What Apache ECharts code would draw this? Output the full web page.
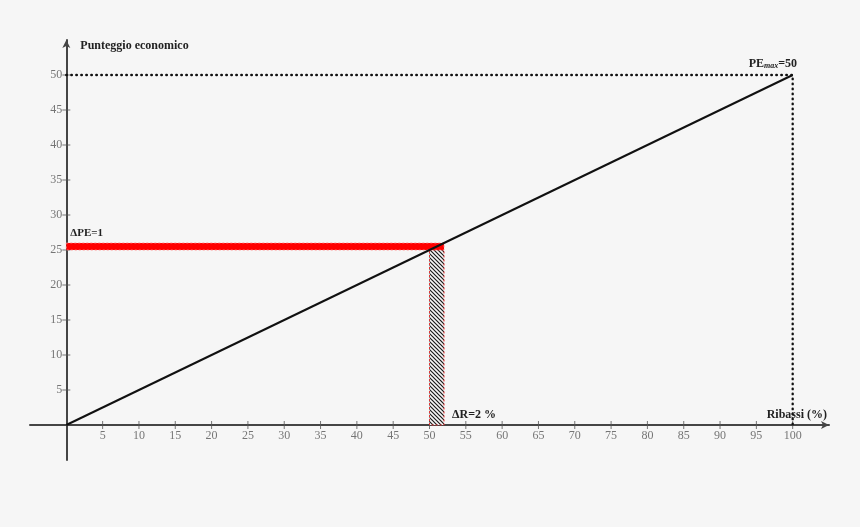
<!DOCTYPE html>
<html>
<head>
<meta charset="utf-8">
<title>Punteggio economico</title>
<script src="https://cdn.jsdelivr.net/npm/echarts@6/dist/echarts.min.js"></script>
<style>
    html, body { margin: 0; padding: 0; background: #f6f6f6; }
    #main { width: 860px; height: 527px; }
</style>
</head>
<body>
<div id="main"></div>
<script>
// tick values shown on the axes
var xTicks = [5, 10, 15, 20, 25, 30, 35, 40, 45, 50, 55, 60, 65, 70, 75, 80, 85, 90, 95, 100];
var yTicks = [5, 10, 15, 20, 25, 30, 35, 40, 45, 50];

// punteggio economico vs ribasso (retta)
var scoreLine = [[0, 0], [100, 50]];
// PEmax guide (dotted)
var maxGuide = [[0, 50], [100, 50], [100, 0]];
// ΔPE band: [x0, x1, y0, y1]
var peBand = [0, 52, 25, 26];
// ΔR band: [x0, x1, y0, y1]
var rBand = [50, 52, 0, 25];

var serif = 'Liberation Serif';
var axisColor = '#454545';

// hatch pattern for the ΔR bar
function hatchPattern() {
    var c = document.createElement('canvas');
    c.width = 4;
    c.height = 4;
    var ctx = c.getContext('2d');
    ctx.fillStyle = '#f6f6f6';
    ctx.fillRect(0, 0, 4, 4);
    ctx.strokeStyle = '#1a1a1a';
    ctx.lineWidth = 1.2;
    ctx.beginPath();
    ctx.moveTo(0, 0); ctx.lineTo(4, 4);
    ctx.moveTo(-1, 3); ctx.lineTo(1, 5);
    ctx.moveTo(3, -1); ctx.lineTo(5, 1);
    ctx.stroke();
    return { image: c, repeat: 'repeat' };
}

var tickLabel = {
    show: true,
    color: '#555',
    fontFamily: serif,
    fontSize: 12
};

var myChart = echarts.init(document.getElementById('main'));
var option = {
    backgroundColor: '#f6f6f6',
    animation: false,
    grid: { left: 30, right: 31, top: 40, bottom: 67 },
    xAxis: {
        type: 'value',
        min: -5,
        max: 105,
        interval: 5,
        splitLine: { show: false },
        axisTick: { show: false },
        axisLabel: { show: false },
        axisLine: {
            onZero: true,
            symbol: ['none', 'arrow'],
            symbolSize: [6, 8],
            lineStyle: { color: axisColor, width: 2 }
        },
        name: 'Ribassi (%)',
        nameLocation: 'end',
        nameGap: -2,
        nameTextStyle: {
            align: 'right',
            verticalAlign: 'bottom',
            padding: [0, 0, 4, 0],
            color: '#222',
            fontFamily: serif,
            fontWeight: 'bold',
            fontSize: 12
        }
    },
    yAxis: {
        type: 'value',
        min: -5,
        max: 55,
        interval: 5,
        splitLine: { show: false },
        axisTick: { show: false },
        axisLabel: { show: false },
        axisLine: {
            onZero: true,
            symbol: ['none', 'arrow'],
            symbolSize: [6, 8],
            lineStyle: { color: axisColor, width: 2 }
        },
        name: 'Punteggio economico',
        nameLocation: 'end',
        nameGap: -6,
        nameTextStyle: {
            align: 'left',
            verticalAlign: 'middle',
            padding: [0, 0, 0, 14],
            color: '#222',
            fontFamily: serif,
            fontWeight: 'bold',
            fontSize: 12
        }
    },
    series: [
        {
            // ΔR hatched bar
            type: 'custom',
            renderItem: function (params, api) {
                var p0 = api.coord([api.value(0), api.value(3)]);
                var p1 = api.coord([api.value(1), api.value(2)]);
                return {
                    type: 'group',
                    children: [{
                        type: 'rect',
                        shape: { x: p0[0], y: p0[1], width: p1[0] - p0[0], height: p1[1] - p0[1] },
                        style: { fill: hatchPattern(), stroke: '#e23030', lineWidth: 1, lineDash: [2, 2] }
                    }, {
                        type: 'text',
                        x: p1[0] + 8,
                        y: p1[1] - 4,
                        style: {
                            text: 'ΔR=2 %',
                            font: 'bold 12px "Liberation Serif"',
                            fill: '#222',
                            verticalAlign: 'bottom'
                        }
                    }]
                };
            },
            data: [rBand],
            z: 3
        },
        {
            // ΔPE red band
            type: 'custom',
            renderItem: function (params, api) {
                var p0 = api.coord([api.value(0), api.value(3)]);
                var p1 = api.coord([api.value(1), api.value(2)]);
                return {
                    type: 'group',
                    children: [{
                        type: 'rect',
                        shape: { x: p0[0], y: p0[1], width: p1[0] - p0[0], height: p1[1] - p0[1] },
                        style: { fill: '#ff0000', stroke: '#ff8080', lineWidth: 0.8, lineDash: [2, 2] }
                    }, {
                        type: 'text',
                        x: p0[0] + 4,
                        y: p0[1] - 4,
                        style: {
                            text: 'ΔPE=1',
                            font: 'bold 11px "Liberation Serif"',
                            fill: '#222',
                            verticalAlign: 'bottom'
                        }
                    }]
                };
            },
            data: [peBand],
            z: 4
        },
        {
            // PEmax guide
            type: 'line',
            data: maxGuide,
            symbol: 'none',
            lineStyle: { color: '#111', width: 2.4, type: [0.5, 4.5], cap: 'round' },
            z: 2
        },
        {
            type: 'line',
            data: scoreLine,
            symbol: 'none',
            showSymbol: false,
            lineStyle: { color: '#111', width: 2 },
            endLabel: {
                show: true,
                formatter: '{a|PE}{b|max}{a|=50}',
                offset: [-52, -11],
                rich: {
                    a: { fontFamily: serif, fontWeight: 'bold', fontSize: 12, color: '#222' },
                    b: { fontFamily: serif, fontStyle: 'italic', fontWeight: 'bold', fontSize: 8, color: '#222', padding: [3, 0, 0, 0] }
                }
            },
            z: 5
        },
        {
            // x tick marks and labels on the zero line
            type: 'scatter',
            data: xTicks.map(function (v) { return [v, 0]; }),
            symbol: 'rect',
            symbolSize: [1, 8],
            itemStyle: { color: '#555' },
            label: Object.assign({ position: 'bottom', distance: 1, formatter: function (p) { return p.value[0]; } }, tickLabel),
            silent: true,
            z: 1
        },
        {
            // y tick marks and labels on the zero line
            type: 'scatter',
            data: yTicks.map(function (v) { return [0, v]; }),
            symbol: 'rect',
            symbolSize: [8, 1],
            itemStyle: { color: '#555' },
            label: Object.assign({ position: 'left', distance: 0, formatter: function (p) { return p.value[1]; } }, tickLabel),
            silent: true,
            z: 1
        }
    ]
};
myChart.setOption(option);
</script>
</body>
</html>
